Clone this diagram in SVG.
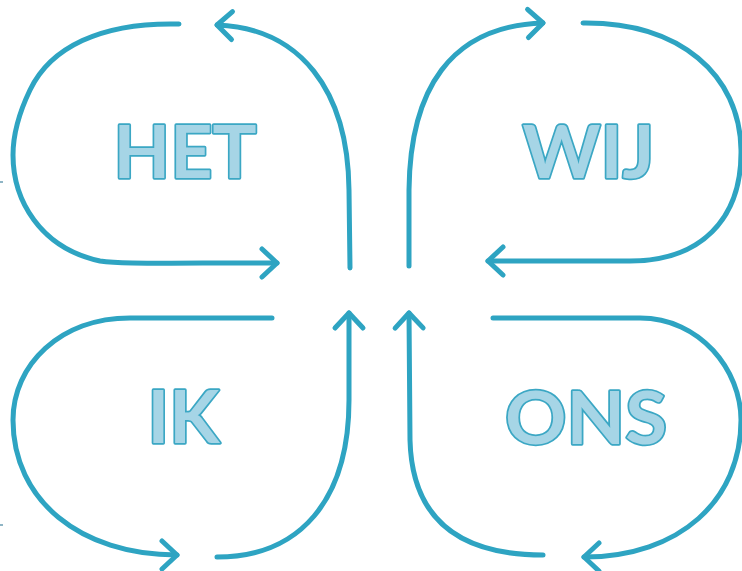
<svg xmlns="http://www.w3.org/2000/svg" width="742" height="571" viewBox="0 0 742 571">
  <style>
    .c { fill: none; stroke: #2ea4c2; stroke-width: 5; stroke-linecap: round; stroke-linejoin: round; }
    .lbl { font-family: Lato, "Open Sans", "DejaVu Sans", sans-serif; font-weight: 700; font-size: 73px; fill: #a6d5e6; stroke: #3ba7c4; stroke-width: 3.4; stroke-linejoin: round; paint-order: stroke; text-anchor: middle; }
    .tick { stroke: #6a9db2; stroke-width: 1.5; }
  </style>
  <defs>
    <marker id="ah" markerUnits="userSpaceOnUse" markerWidth="30" markerHeight="40" refX="0" refY="0" orient="auto" overflow="visible">
      <path d="M-15,-14 L0,0 L-15,14" fill="none" stroke="#2ea4c2" stroke-width="5" stroke-linecap="round" stroke-linejoin="round"/>
    </marker>
  </defs>
  <rect width="742" height="571" fill="#ffffff"/>

  <g id="connectors">
    <path class="c" d="M179,24 C100,22 50,48 30,90 C18,115 13,135 13,155 C13,200 40,248 100,261 C120,264 150,263 277,263" marker-end="url(#ah)"/>
    <path class="c" d="M350,268 L349,190 C348,90 300,28 217,25" marker-end="url(#ah)"/>
    <path class="c" d="M409,266 L409,190 C410,90 450,26 543,23" marker-end="url(#ah)"/>
    <path class="c" d="M583,23 C680,22 740,75 741,150 C742,220 700,261 630,261 L488,261" marker-end="url(#ah)"/>
    <path class="c" d="M272,318 L130,318 C60,318 13,365 13,420 C13,500 80,555 177,555" marker-end="url(#ah)"/>
    <path class="c" d="M217,557 C300,557 349,500 349,400 L349,313" marker-end="url(#ah)"/>
    <path class="c" d="M543,555 C460,555 412,520 410,440 L409,313" marker-end="url(#ah)"/>
    <path class="c" d="M493,318 L640,318 C700,318 741,370 741,420 C741,500 680,557 584,557" marker-end="url(#ah)"/>
    <line class="tick" x1="0" y1="182" x2="3" y2="182"/>
    <line class="tick" x1="0" y1="525" x2="3" y2="525"/>
  </g>

  <g id="het"><text class="lbl" x="185" y="177.5" textLength="143" lengthAdjust="spacingAndGlyphs">HET</text></g>
  <g id="wij"><text class="lbl" x="588.5" y="177.5" textLength="132" lengthAdjust="spacingAndGlyphs">WIJ</text></g>
  <g id="ik"><text class="lbl" x="183.5" y="442.5" textLength="72" lengthAdjust="spacingAndGlyphs">IK</text></g>
  <g id="ons"><text class="lbl" x="586" y="443.5" textLength="162" lengthAdjust="spacingAndGlyphs">ONS</text></g>
</svg>
